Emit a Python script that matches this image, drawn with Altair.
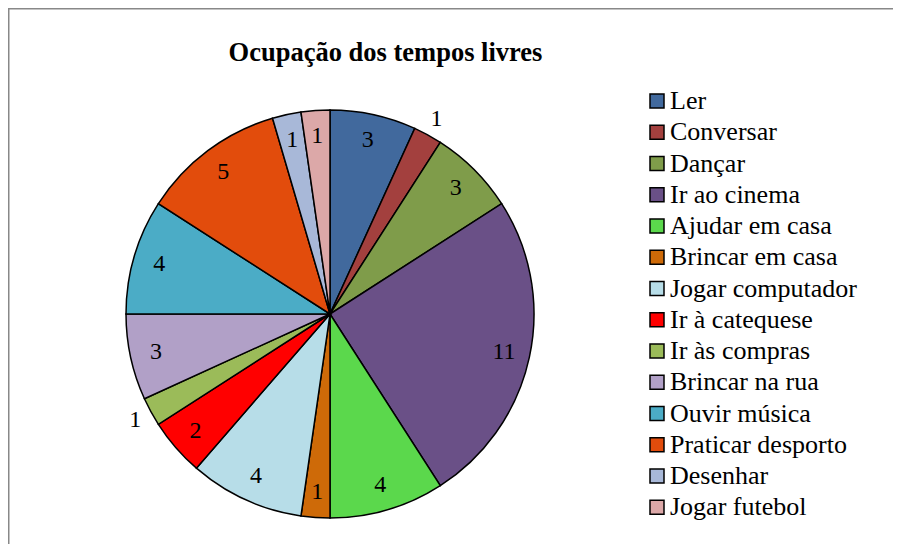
import altair as alt
import pandas as pd

categories = ["Ler", "Conversar", "Dançar", "Ir ao cinema", "Ajudar em casa",
              "Brincar em casa", "Jogar computador", "Ir à catequese", "Ir às compras",
              "Brincar na rua", "Ouvir música", "Praticar desporto", "Desenhar", "Jogar futebol"]
values = [3, 1, 3, 11, 4, 1, 4, 2, 1, 3, 4, 5, 1, 1]
colors = ["#41699D", "#A3403E", "#7F9C4A", "#6A5087", "#5BD84C", "#CE6A08", "#B7DDE8",
          "#FF0000", "#9BBB59", "#B1A0C7", "#4BACC6", "#E24C0C", "#A8B8D8", "#DCA8A8"]
outside_labels = ["Conversar", "Ir às compras"]
title_text = "Ocupação dos tempos livres"

df = pd.DataFrame({"cat": categories, "value": values, "idx": list(range(len(categories)))})
df["outside"] = df["cat"].isin(outside_labels)

W, H = 885, 536
CX, CY, R = 322, 306, 204
FONT = "'Times New Roman', 'Liberation Serif', 'DejaVu Serif', serif"

base = alt.Chart(df)
theta = alt.Theta("value:Q", stack=True)
order = alt.Order("idx:Q", sort="ascending")

arcs = base.mark_arc(outerRadius=R, stroke="black", strokeWidth=1.5).encode(
    theta=theta,
    order=order,
    color=alt.Color(
        "cat:N",
        scale=alt.Scale(domain=categories, range=colors),
        legend=alt.Legend(
            title=None, orient="none", legendX=636, legendY=80,
            symbolType="square", symbolSize=196, symbolStrokeColor="black",
            symbolStrokeWidth=1.5, symbolOpacity=1,
            labelFont=FONT, labelFontSize=26, labelColor="black",
            labelOffset=0, rowPadding=5.25, padding=0, labelLimit=400,
        ),
    ),
    x=alt.value(CX),
    y=alt.value(CY),
)

inner = base.transform_calculate(
    lab="datum.outside ? '' : datum.value + ''"
).mark_text(radius=178, font=FONT, fontSize=24, color="black", align="center", baseline="middle").encode(
    theta=theta, order=order, text="lab:N", x=alt.value(CX), y=alt.value(CY)
)

outer = base.transform_calculate(
    lab="datum.outside ? datum.value + '' : ''"
).mark_text(radius=222, font=FONT, fontSize=24, color="black", align="center", baseline="middle").encode(
    theta=theta, order=order, text="lab:N", x=alt.value(CX), y=alt.value(CY)
)

one = alt.Data(values=[{"k": 1}])
left_rule = alt.Chart(one).mark_rule(color="#888888", strokeWidth=1.5).encode(
    x=alt.value(0.75), y=alt.value(0), y2=alt.value(H)
)
top_rule = alt.Chart(one).mark_rule(color="#888888", strokeWidth=1.5).encode(
    x=alt.value(0), x2=alt.value(W), y=alt.value(0.75)
)

chart = alt.layer(arcs, inner, outer, left_rule, top_rule).properties(
    width=W, height=H,
    autosize=alt.AutoSizeParams(type="none"),
    padding=0,
    title=alt.TitleParams(
        title_text, font=FONT, fontSize=26.5, fontWeight="bold", color="black",
        anchor="middle", dx=-65, dy=80, offset=0, baseline="alphabetic", orient="top",
    ),
).configure_view(stroke=None).configure(background="white")

chart.save("out.html", embed_options={"renderer": "svg", "actions": False})
